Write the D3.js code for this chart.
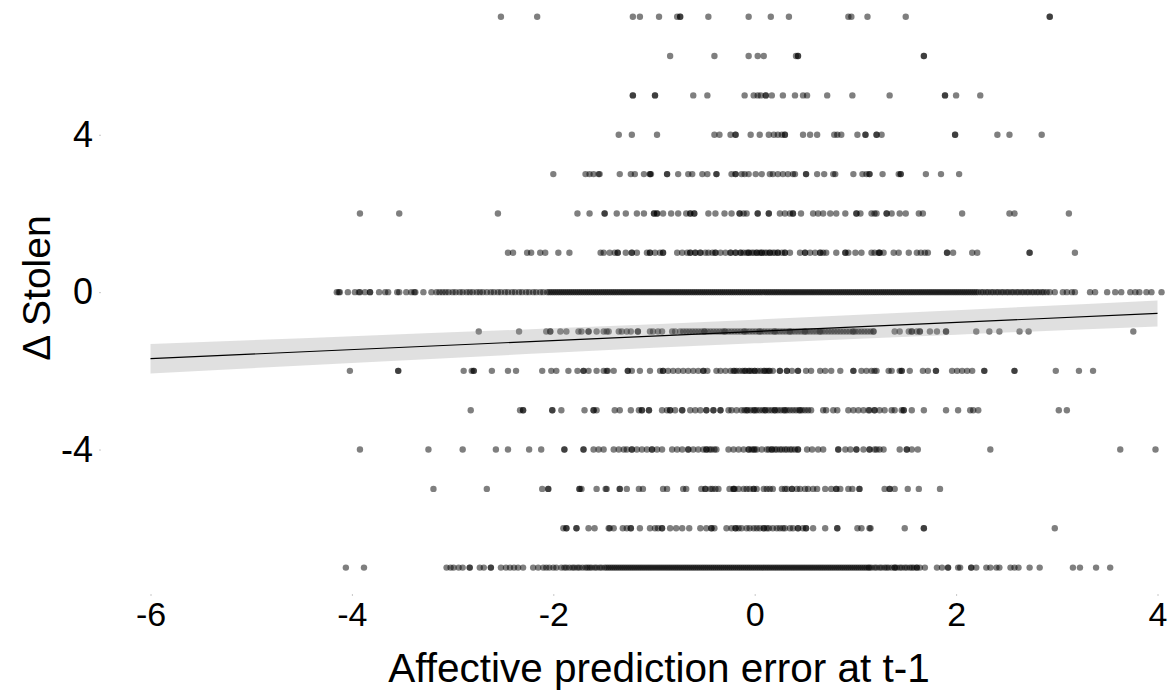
<!DOCTYPE html>
<html>
<head>
<meta charset="utf-8">
<script src="https://cdn.jsdelivr.net/npm/d3@7"></script>
<style>
  body { margin: 0; background: #fff; }
  svg { display: block; font-family: "Liberation Sans", Arial, sans-serif; }
</style>
</head>
<body>
<svg id="chart" width="1171" height="696"></svg>
<script>
//  x values (affective prediction error at t-1) of the points, one list per level of delta stolen
const stolen_levels = [7, 6, 5, 4, 3, 2, 1, 0, -1, -2, -3, -4, -5, -6, -7];

const pe_at_p7 = [-2.52, -2.16, -1.21, -1.14, -0.95, -0.77, -0.74, -0.74, -0.46, -0.06, 0.16, 0.34,
  0.93, 0.96, 1.12, 1.50, 2.93, 2.93];

const pe_at_p6 = [-0.84, -0.40, -0.06, 0.03, 0.09, 0.41, 0.43, 0.43, 1.68, 1.68];

const pe_at_p5 = [-1.21, -1.21, -0.99, -0.99, -0.61, -0.47, -0.10, -0.01, 0.03, 0.06, 0.11, 0.11,
  0.17, 0.28, 0.40, 0.48, 0.52, 0.72, 0.97, 1.34, 1.89, 1.89, 2.00, 2.24];

const pe_at_p4 = [-1.35, -1.22, -0.97, -0.40, -0.35, -0.24, -0.19, -0.19, -0.04, 0.05, 0.14, 0.19,
  0.23, 0.27, 0.30, 0.30, 0.48, 0.55, 0.62, 0.79, 0.82, 0.86, 1.02, 1.10, 1.10, 1.21, 1.21, 1.26,
  1.99, 1.99, 2.41, 2.53, 2.85];

const pe_at_p3 = [-2.00, -1.68, -1.64, -1.60, -1.55, -1.54, -1.34, -1.23, -1.19, -1.10, -1.04, -1.04,
  -1.03, -0.87, -0.87, -0.76, -0.66, -0.62, -0.52, -0.47, -0.38, -0.38, -0.23, -0.19, -0.19, -0.13,
  -0.10, -0.06, 0.01, 0.07, 0.15, 0.18, 0.23, 0.28, 0.33, 0.38, 0.40, 0.51, 0.51, 0.62, 0.69, 0.78,
  0.80, 0.98, 1.07, 1.11, 1.14, 1.14, 1.27, 1.43, 1.45, 1.45, 1.70, 1.85, 2.03];

const pe_at_p2 = [-3.92, -3.53, -2.55, -1.76, -1.64, -1.49, -1.49, -1.37, -1.28, -1.17, -1.10, -1.00,
  -1.00, -0.97, -0.97, -0.91, -0.83, -0.76, -0.68, -0.64, -0.64, -0.60, -0.60, -0.46, -0.39, -0.30,
  -0.23, -0.15, -0.15, -0.11, -0.08, 0.03, 0.03, 0.14, 0.14, 0.25, 0.30, 0.35, 0.38, 0.38, 0.46,
  0.58, 0.63, 0.68, 0.75, 0.81, 0.90, 1.01, 1.01, 1.05, 1.16, 1.19, 1.21, 1.31, 1.31, 1.36, 1.44,
  1.50, 1.63, 1.67, 2.06, 2.53, 2.58, 3.12];

const pe_at_p1 = [-2.45, -2.40, -2.26, -2.22, -2.13, -2.08, -1.95, -1.84, -1.53, -1.50, -1.44, -1.39,
  -1.36, -1.36, -1.28, -1.22, -1.22, -1.17, -1.07, -1.04, -1.04, -0.99, -0.94, -0.91, -0.91, -0.77,
  -0.72, -0.67, -0.64, -0.64, -0.59, -0.59, -0.54, -0.54, -0.49, -0.46, -0.42, -0.39, -0.39, -0.34,
  -0.29, -0.24, -0.24, -0.19, -0.19, -0.14, -0.14, -0.11, -0.08, -0.06, -0.06, -0.03, -0.01, 0.02,
  0.02, 0.05, 0.07, 0.07, 0.10, 0.12, 0.15, 0.15, 0.18, 0.20, 0.23, 0.23, 0.27, 0.30, 0.30, 0.35,
  0.45, 0.50, 0.50, 0.55, 0.60, 0.65, 0.65, 0.68, 0.71, 0.81, 0.90, 0.90, 0.93, 1.00, 1.06, 1.16,
  1.19, 1.23, 1.24, 1.24, 1.28, 1.38, 1.43, 1.53, 1.61, 1.65, 1.69, 1.72, 1.91, 1.91, 1.97, 2.16,
  2.21, 2.73, 2.73, 3.18];

const pe_at_0 = [-4.15, -4.13, -4.12, -4.04, -3.97, -3.93, -3.92, -3.87, -3.82, -3.82, -3.73, -3.67,
  -3.64, -3.55, -3.53, -3.46, -3.41, -3.38, -3.37, -3.29, -3.21,
  -3.16, -3.13, -3.10, -3.07, -3.04, -3.00, -2.97, -2.93, -2.90, -2.86, -2.83, -2.80, -2.76, -2.73,
  -2.70, -2.66, -2.62, -2.59, -2.55, -2.52, -2.48, -2.45, -2.41, -2.38, -2.34, -2.31, -2.27, -2.24,
  -2.20, -2.17, -2.13, -2.10,
  -2.06, -2.04, -2.02, -2.00, -1.98, -1.96, -1.94, -1.92, -1.90, -1.88, -1.86, -1.84, -1.82, -1.80,
  -1.78, -1.76, -1.74, -1.72, -1.70, -1.68, -1.66, -1.64, -1.62, -1.60, -1.58, -1.56, -1.54, -1.52,
  -1.50, -1.48, -1.46, -1.44, -1.42, -1.40, -1.38, -1.36, -1.34, -1.32, -1.30, -1.28, -1.26, -1.24,
  -1.22, -1.20, -1.18, -1.16, -1.14, -1.12, -1.10, -1.08, -1.06, -1.04, -1.02, -1.00, -0.98, -0.96,
  -0.94, -0.92, -0.90, -0.88, -0.86, -0.84, -0.82, -0.80, -0.78, -0.76, -0.74, -0.72, -0.70, -0.68,
  -0.66, -0.64, -0.62, -0.60, -0.58, -0.56, -0.54, -0.52, -0.50, -0.48, -0.46, -0.44, -0.42, -0.40,
  -0.38, -0.36, -0.34, -0.32, -0.30, -0.28, -0.26, -0.24, -0.22, -0.20, -0.18, -0.16, -0.14, -0.12,
  -0.10, -0.08, -0.06, -0.04, -0.02, 0.00, 0.02, 0.04, 0.06, 0.08, 0.10, 0.12, 0.14, 0.16,
  0.18, 0.20, 0.22, 0.24, 0.26, 0.28, 0.30, 0.32, 0.34, 0.36, 0.38, 0.40, 0.42, 0.44, 0.46, 0.48,
  0.50, 0.52, 0.54, 0.56, 0.58, 0.60, 0.62, 0.64, 0.66, 0.68, 0.70, 0.72, 0.74, 0.76, 0.78, 0.80,
  0.82, 0.84, 0.86, 0.88, 0.90, 0.92, 0.94, 0.96, 0.98, 1.00, 1.02, 1.04, 1.06, 1.08, 1.10, 1.12,
  1.14, 1.16, 1.18, 1.20, 1.22, 1.24, 1.26, 1.28, 1.30, 1.32, 1.34, 1.36, 1.38, 1.40, 1.42, 1.44,
  1.46, 1.48, 1.50, 1.52, 1.54, 1.56, 1.58, 1.60, 1.62, 1.64, 1.66, 1.68, 1.70, 1.72, 1.74, 1.76,
  1.78, 1.80, 1.82, 1.84, 1.86, 1.88, 1.90, 1.92, 1.94, 1.96, 1.98, 2.00, 2.02, 2.04, 2.06, 2.08,
  2.10, 2.12, 2.14, 2.16, 2.18, 2.20,
  2.22, 2.25, 2.27, 2.30, 2.32, 2.35, 2.37, 2.40, 2.42, 2.45, 2.47, 2.50, 2.52, 2.55, 2.57, 2.60,
  2.62, 2.65, 2.67, 2.70, 2.72, 2.75, 2.77, 2.80, 2.82, 2.85, 2.87, 2.90,
  2.93, 2.98, 3.06, 3.10, 3.15, 3.18, 3.33, 3.38, 3.50, 3.58, 3.64, 3.73, 3.78, 3.82, 3.89, 3.94, 4.04];

const pe_at_m1 = [-2.74, -2.34, -2.07, -2.03, -2.03, -1.93, -1.87, -1.75, -1.72, -1.65, -1.65, -1.57,
  -1.50, -1.47, -1.45, -1.35, -1.32, -1.27, -1.23, -1.16, -1.16, -1.04, -1.01, -0.96, -0.92, -0.82,
  -0.79, -0.74, -0.71, -0.68, -0.65, -0.62, -0.59, -0.56, -0.53, -0.50, -0.50, -0.47, -0.44, -0.41,
  -0.38, -0.35, -0.32, -0.30, -0.29, -0.26, -0.23, -0.20, -0.17, -0.14, -0.11, -0.10, -0.08, -0.05,
  -0.02, 0.01, 0.04, 0.05, 0.07, 0.10, 0.13, 0.16, 0.19, 0.20, 0.22, 0.25, 0.28, 0.31, 0.34, 0.35,
  0.37, 0.40, 0.43, 0.46, 0.49, 0.50, 0.52, 0.55, 0.58, 0.61, 0.64, 0.65, 0.67, 0.70, 0.73, 0.76,
  0.79, 0.82, 0.85, 0.88, 0.91, 0.94, 0.97, 0.98, 1.00, 1.03, 1.06, 1.09, 1.12, 1.15, 1.18, 1.18,
  1.39, 1.44, 1.53, 1.56, 1.56, 1.61, 1.64, 1.64, 1.74, 1.81, 1.90, 1.90, 2.20, 2.33, 2.43, 2.63,
  2.72, 3.76];

const pe_at_m2 = [-4.02, -3.54, -3.54, -2.89, -2.81, -2.79, -2.79, -2.61, -2.45, -2.37, -2.11, -2.02,
  -1.97, -1.85, -1.76, -1.70, -1.70, -1.65, -1.57, -1.50, -1.47, -1.46, -1.40, -1.26, -1.26, -1.22,
  -1.14, -1.04, -0.94, -0.91, -0.91, -0.86, -0.81, -0.76, -0.71, -0.66, -0.61, -0.56, -0.51, -0.51,
  -0.47, -0.38, -0.34, -0.29, -0.24, -0.21, -0.20, -0.18, -0.15, -0.12, -0.10, -0.09, -0.06, -0.05,
  -0.03, 0.00, 0.00, 0.03, 0.06, 0.09, 0.10, 0.12, 0.14, 0.15, 0.18, 0.25, 0.25, 0.32, 0.32, 0.37,
  0.43, 0.43, 0.51, 0.56, 0.65, 0.70, 0.76, 0.85, 0.98, 0.98, 1.06, 1.11, 1.16, 1.19, 1.21, 1.33,
  1.36, 1.44, 1.46, 1.46, 1.54, 1.67, 1.72, 1.80, 1.80, 1.96, 2.01, 2.06, 2.11, 2.16, 2.28, 2.28,
  2.58, 2.58, 2.99, 3.22, 3.36];

const pe_at_m3 = [-2.82, -2.33, -2.30, -2.30, -2.01, -2.01, -1.92, -1.69, -1.60, -1.60, -1.57, -1.39,
  -1.34, -1.23, -1.15, -1.12, -1.12, -1.05, -1.05, -0.92, -0.87, -0.84, -0.84, -0.79, -0.72, -0.72,
  -0.64, -0.59, -0.54, -0.48, -0.48, -0.41, -0.41, -0.34, -0.34, -0.26, -0.23, -0.18, -0.13, -0.10,
  -0.08, -0.07, -0.04, -0.01, 0.00, 0.02, 0.05, 0.08, 0.10, 0.11, 0.14, 0.17, 0.20, 0.20, 0.23,
  0.26, 0.29, 0.30, 0.32, 0.35, 0.38, 0.41, 0.44, 0.45, 0.47, 0.50, 0.53, 0.56, 0.68, 0.71, 0.78,
  0.82, 0.93, 0.98, 1.03, 1.08, 1.13, 1.14, 1.19, 1.19, 1.24, 1.29, 1.36, 1.39, 1.46, 1.48, 1.48,
  1.56, 1.68, 1.90, 2.02, 2.14, 2.17, 2.22, 3.02, 3.10];

const pe_at_m4 = [-3.92, -3.24, -2.90, -2.57, -2.45, -2.24, -2.12, -1.89, -1.89, -1.70, -1.70, -1.60,
  -1.55, -1.50, -1.40, -1.35, -1.30, -1.27, -1.22, -1.22, -1.17, -1.12, -1.07, -1.02, -1.02, -0.97,
  -0.92, -0.82, -0.77, -0.72, -0.66, -0.66, -0.61, -0.56, -0.51, -0.48, -0.48, -0.45, -0.43, -0.40,
  -0.38, -0.26, -0.21, -0.16, -0.11, -0.06, -0.06, -0.03, -0.01, 0.00, 0.02, 0.07, 0.12, 0.14, 0.17,
  0.17, 0.20, 0.22, 0.25, 0.27, 0.30, 0.32, 0.35, 0.37, 0.40, 0.43, 0.43, 0.52, 0.57, 0.63, 0.68,
  0.83, 0.83, 0.90, 0.95, 1.01, 1.01, 1.08, 1.14, 1.14, 1.19, 1.21, 1.24, 1.28, 1.44, 1.51, 1.51,
  1.56, 1.62, 2.34, 3.63, 3.98];

const pe_at_m5 = [-3.19, -2.66, -2.11, -2.05, -2.05, -1.74, -1.74, -1.72, -1.57, -1.48, -1.47, -1.34,
  -1.34, -1.27, -1.15, -1.11, -0.91, -0.87, -0.71, -0.68, -0.53, -0.49, -0.49, -0.44, -0.42, -0.39,
  -0.36, -0.25, -0.21, -0.21, -0.20, -0.16, -0.11, -0.08, -0.05, -0.01, -0.01, 0.02, 0.09, 0.12,
  0.15, 0.18, 0.27, 0.30, 0.32, 0.37, 0.37, 0.42, 0.45, 0.50, 0.53, 0.58, 0.62, 0.70, 0.76, 0.81,
  0.81, 0.85, 0.93, 0.97, 1.04, 1.04, 1.29, 1.34, 1.34, 1.39, 1.52, 1.63, 1.84];

const pe_at_m6 = [-1.90, -1.87, -1.87, -1.77, -1.77, -1.65, -1.59, -1.45, -1.44, -1.40, -1.31, -1.27,
  -1.23, -1.23, -1.14, -1.04, -0.99, -0.96, -0.92, -0.92, -0.84, -0.78, -0.72, -0.65, -0.54, -0.48,
  -0.43, -0.43, -0.40, -0.28, -0.23, -0.19, -0.19, -0.16, -0.13, -0.08, -0.05, -0.01, 0.02, 0.05,
  0.09, 0.09, 0.12, 0.14, 0.18, 0.22, 0.25, 0.28, 0.30, 0.35, 0.38, 0.43, 0.43, 0.48, 0.51, 0.51,
  0.58, 0.70, 0.82, 0.82, 1.02, 1.06, 1.14, 1.15, 1.49, 1.68, 1.68, 2.98];

const pe_at_m7 = [-4.06, -3.88, -3.06, -3.02, -2.99, -2.94, -2.90, -2.83, -2.83, -2.73, -2.69, -2.62,
  -2.62, -2.52, -2.47, -2.43, -2.39, -2.35, -2.30, -2.20, -2.15, -2.10, -2.07, -2.04, -2.00, -1.97,
  -1.92, -1.89, -1.87, -1.84, -1.81, -1.79, -1.76, -1.74, -1.71, -1.68, -1.66, -1.64, -1.62, -1.59,
  -1.57, -1.54, -1.52, -1.49, -1.47,
  -1.45, -1.43, -1.41, -1.39, -1.37, -1.35, -1.33, -1.31, -1.29, -1.27, -1.25, -1.23, -1.21, -1.19,
  -1.17, -1.15, -1.13, -1.11, -1.09, -1.07, -1.05, -1.03, -1.01, -0.99, -0.97, -0.95, -0.93, -0.91,
  -0.89, -0.87, -0.85, -0.83, -0.81, -0.79, -0.77, -0.75, -0.73, -0.71, -0.69, -0.67, -0.65, -0.63,
  -0.61, -0.59, -0.57, -0.55, -0.53, -0.51, -0.49, -0.47, -0.45, -0.43, -0.41, -0.39, -0.37, -0.35,
  -0.33, -0.31, -0.29, -0.27, -0.25, -0.23, -0.21, -0.19, -0.17, -0.15, -0.13, -0.11, -0.09, -0.07,
  -0.05, -0.03, -0.01, 0.01, 0.03, 0.05, 0.07, 0.09, 0.11, 0.13, 0.15, 0.17, 0.19, 0.21, 0.23, 0.25,
  0.27, 0.29, 0.31, 0.33, 0.35, 0.37, 0.39, 0.41, 0.43, 0.45, 0.47, 0.49, 0.51, 0.53, 0.55, 0.57,
  0.59, 0.61, 0.63, 0.65, 0.67, 0.69, 0.71, 0.73, 0.75, 0.77, 0.79, 0.81, 0.83, 0.85, 0.87, 0.89,
  0.91, 0.93, 0.95, 0.97, 0.99, 1.01, 1.03, 1.05, 1.07, 1.09, 1.11, 1.13,
  1.14, 1.16, 1.19, 1.21, 1.24, 1.26, 1.29, 1.31, 1.33, 1.36, 1.39, 1.39, 1.41, 1.44, 1.46, 1.49,
  1.51, 1.54, 1.56, 1.58, 1.61, 1.61, 1.64, 1.69, 1.81, 1.86, 1.92, 1.92, 2.02, 2.04, 2.15, 2.15,
  2.20, 2.30, 2.34, 2.40, 2.43, 2.54, 2.58, 2.62, 2.73, 2.83, 3.16, 3.23, 3.39, 3.53];

const pe_rows = [pe_at_p7, pe_at_p6, pe_at_p5, pe_at_p4, pe_at_p3, pe_at_p2, pe_at_p1, pe_at_0,
  pe_at_m1, pe_at_m2, pe_at_m3, pe_at_m4, pe_at_m5, pe_at_m6, pe_at_m7];

//  linear fit and its confidence band
const fit_x = [-6, 4];
const fit_y = [-1.69, -0.54];
const band_x = [-6, -4, -2, 0, 2, 4];
const band_lo = [-2.065, -1.80, -1.54, -1.30, -1.08, -0.87];
const band_hi = [-1.315, -1.12, -0.92, -0.70, -0.46, -0.21];

//  ticks and labels
const x_ticks = [-6, -4, -2, 0, 2, 4];
const y_ticks = [-4, 0, 4];
const x_title = "Affective prediction error at t-1";
const y_title = "Δ Stolen";

//  draw scatterplot
function draw_scatterplot() {
  const svg = d3.select("#chart");
  const left = 150.5, right = 1157.5, top = 16.7, bottom = 567.6;

  const x = d3.scaleLinear().domain([-6, 4]).range([left, right]);
  const y = d3.scaleLinear().domain([-7, 7]).range([bottom, top]);

  //  flatten rows into points
  const points = [];
  stolen_levels.forEach((lv, i) => {
    pe_rows[i].forEach(v => points.push({x: v, y: lv}));
  });

  svg.append("g")
    .selectAll("circle")
    .data(points)
    .join("circle")
      .attr("cx", d => x(d.x))
      .attr("cy", d => y(d.y))
      .attr("r", 3.2)
      .attr("fill", "#000")
      .attr("fill-opacity", 0.5);

  //  confidence band
  const band = band_x.map((v, i) => ({x: v, lo: band_lo[i], hi: band_hi[i]}));
  svg.append("path")
    .datum(band)
    .attr("d", d3.area().x(d => x(d.x)).y0(d => y(d.lo)).y1(d => y(d.hi)).curve(d3.curveMonotoneX))
    .attr("fill", "#999")
    .attr("fill-opacity", 0.3);

  //  fit line
  svg.append("path")
    .datum(fit_x.map((v, i) => ({x: v, y: fit_y[i]})))
    .attr("d", d3.line().x(d => x(d.x)).y(d => y(d.y)))
    .attr("fill", "none")
    .attr("stroke", "#000")
    .attr("stroke-width", 1.2);

  //  axes (plain hyphen for negatives, like the original)
  const fmt = d => String(d);

  const xAxis = g => g
    .attr("transform", `translate(0,594)`)
    .call(d3.axisBottom(x).tickValues(x_ticks).tickSize(2).tickPadding(6).tickFormat(fmt));

  const yAxis = g => g
    .attr("transform", `translate(101,0)`)
    .call(d3.axisLeft(y).tickValues(y_ticks).tickSize(2).tickPadding(6).tickFormat(fmt));

  const gx = svg.append("g").call(xAxis);
  const gy = svg.append("g").call(yAxis);

  [gx, gy].forEach(g => {
    g.select(".domain").remove();
    g.selectAll(".tick line").attr("stroke", "#c8c8c8");
    g.selectAll(".tick text")
      .attr("fill", "#000")
      .style("font-family", "'Liberation Sans', Arial, sans-serif");
  });
  gx.selectAll(".tick text").style("font-size", "34px");
  gy.selectAll(".tick text").style("font-size", "36px");

  //  axis titles
  svg.append("text")
    .attr("x", 659)
    .attr("y", 682)
    .attr("text-anchor", "middle")
    .style("font-size", "40.5px")
    .text(x_title);

  svg.append("text")
    .attr("transform", "translate(50,288) rotate(-90)")
    .attr("text-anchor", "middle")
    .style("font-size", "39px")
    .text(y_title);
}

draw_scatterplot();
</script>
</body>
</html>
